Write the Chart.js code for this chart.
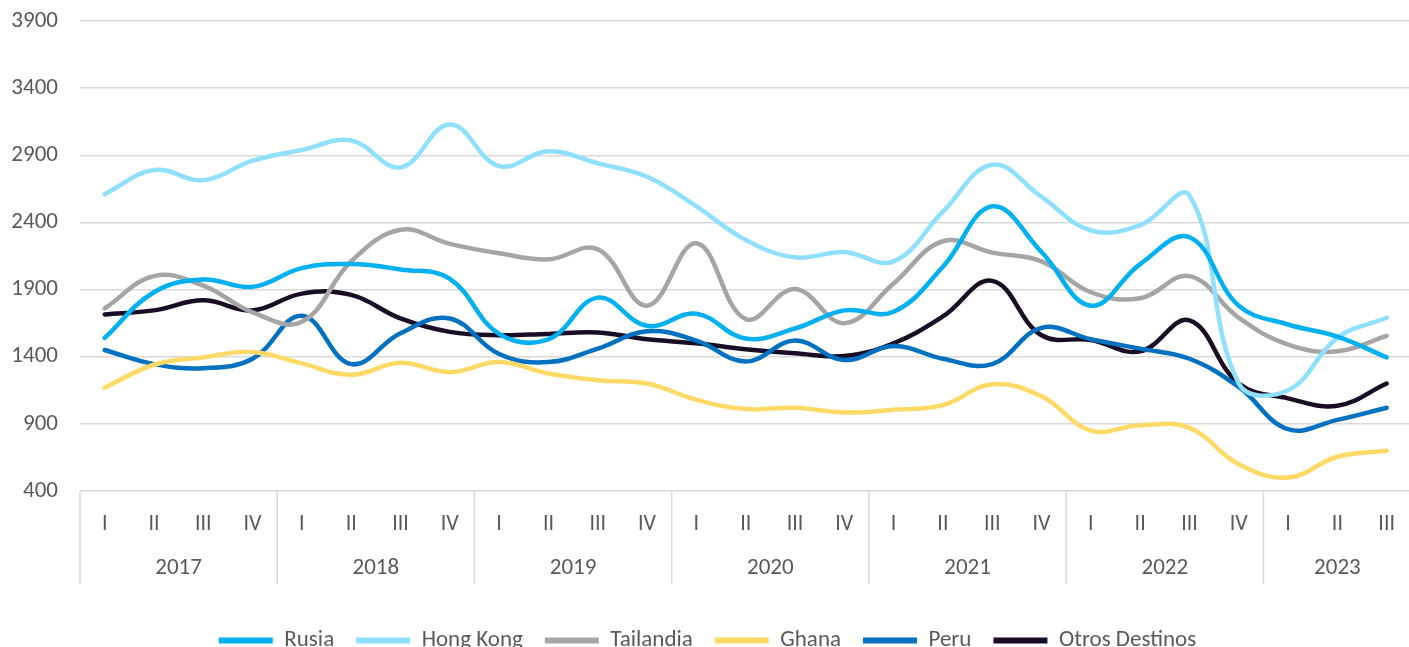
<!DOCTYPE html>
<html>
<head>
<meta charset="utf-8">
<script src="https://cdn.jsdelivr.net/npm/chart.js@4.4.0/dist/chart.umd.min.js"></script>
<style>
  html, body { margin: 0; padding: 0; background: #fff; overflow: hidden; }
  #wrap { width: 1415px; height: 662px; }
</style>
</head>
<body>
<div id="wrap"><canvas id="myChart" width="1415" height="662"></canvas></div>
<script>
"use strict"
// quarter label + year for each point
let quarters = ['I', 'II', 'III', 'IV', 'I', 'II', 'III', 'IV', 'I', 'II', 'III', 'IV', 'I', 'II', 'III', 'IV',
    'I', 'II', 'III', 'IV', 'I', 'II', 'III', 'IV', 'I', 'II', 'III'];
let years = ['2017', '2017', '2017', '2017', '2018', '2018', '2018', '2018', '2019', '2019', '2019', '2019',
    '2020', '2020', '2020', '2020', '2021', '2021', '2021', '2021', '2022', '2022', '2022', '2022',
    '2023', '2023', '2023'];
let yTicks = [400, 900, 1400, 1900, 2400, 2900, 3400, 3900];

let rusia = [1540, 1880, 1975, 1920, 2060, 2090, 2050, 1980, 1570, 1530, 1840, 1630, 1720, 1535, 1610, 1745,
    1735, 2070, 2520, 2180, 1780, 2090, 2290, 1780, 1640, 1550, 1395];
let hongKong = [2610, 2790, 2715, 2860, 2940, 3010, 2810, 3130, 2820, 2930, 2840, 2740, 2520, 2270, 2140, 2180,
    2110, 2480, 2830, 2590, 2340, 2380, 2600, 1200, 1150, 1540, 1690];
let tailandia = [1760, 2000, 1930, 1730, 1660, 2110, 2345, 2240, 2170, 2125, 2200, 1780, 2245, 1680, 1905, 1650,
    1945, 2260, 2175, 2110, 1880, 1835, 2000, 1690, 1490, 1440, 1555];
let ghana = [1170, 1340, 1395, 1435, 1350, 1265, 1355, 1285, 1360, 1275, 1225, 1200, 1080, 1010, 1020, 985,
    1005, 1040, 1195, 1105, 850, 890, 870, 600, 500, 655, 700];
let peru = [1450, 1345, 1315, 1385, 1705, 1345, 1575, 1685, 1420, 1360, 1460, 1590, 1520, 1365, 1520, 1375,
    1480, 1385, 1345, 1615, 1530, 1460, 1385, 1175, 860, 930, 1020];
let otros = [1715, 1745, 1820, 1745, 1870, 1860, 1685, 1585, 1560, 1570, 1580, 1530, 1500, 1455, 1425, 1405,
    1500, 1700, 1965, 1560, 1525, 1440, 1670, 1200, 1090, 1035, 1200];

let seriesNames = ['Rusia', 'Hong Kong', 'Tailandia', 'Ghana', 'Peru', 'Otros Destinos'];
let seriesData = [rusia, hongKong, tailandia, ghana, peru, otros];
let seriesColors = ['#00b0f0', '#8fdfff', '#a5a5a5', '#ffd966', '#0070c0', '#1b0c25'];

const fontFam = "Carlito, Calibri, 'Liberation Sans', sans-serif";
const txtColor = '#595959';
const lineGray = '#d9d9d9';

let datasets = [];
for (let i = 0; i < seriesNames.length; i++) {
    datasets.push({
        label: seriesNames[i],
        data: seriesData[i],
        borderColor: seriesColors[i],
        backgroundColor: seriesColors[i],
        borderWidth: 4.5,
        borderCapStyle: 'round',
        pointRadius: 0,
        tension: 0.4,
        fill: false
    });
}

// year labels + separators under the quarter ticks
const yearAxis = {
    id: 'yearAxis',
    afterDraw(chart) {
        let ctx = chart.ctx;
        let xs = chart.scales.x;
        let bottom = chart.chartArea.bottom;
        let half = (xs.getPixelForValue(1) - xs.getPixelForValue(0)) / 2;
        ctx.save();
        ctx.strokeStyle = lineGray;
        ctx.lineWidth = 1.5;
        ctx.fillStyle = txtColor;
        ctx.font = '23px ' + fontFam;
        ctx.textAlign = 'center';
        ctx.textBaseline = 'middle';
        let start = 0;
        for (let i = 1; i <= years.length; i++) {
            if (i == years.length || years[i] != years[start]) {
                let left = xs.getPixelForValue(start) - half;
                ctx.beginPath();
                ctx.moveTo(left, bottom);
                ctx.lineTo(left, bottom + 93);
                ctx.stroke();
                let cx = (xs.getPixelForValue(start) + xs.getPixelForValue(i - 1)) / 2;
                ctx.fillText(years[start], cx, bottom + 77);
                start = i;
            }
        }
        ctx.restore();
    }
};

let ctx = document.getElementById('myChart').getContext('2d');
let myChart = new Chart(ctx, {
    type: 'line',
    data: {
        labels: quarters,
        datasets: datasets
    },
    plugins: [yearAxis],
    options: {
        responsive: false,
        animation: false,
        layout: { padding: { top: 21, right: 0, bottom: 0, left: 0 } },
        plugins: {
            legend: {
                position: 'bottom',
                labels: {
                    usePointStyle: true,
                    pointStyle: 'line',
                    pointStyleWidth: 54,
                    boxHeight: 20,
                    padding: 22,
                    color: txtColor,
                    font: { family: fontFam, size: 23 },
                    generateLabels(chart) {
                        let items = Chart.defaults.plugins.legend.labels.generateLabels(chart);
                        items.forEach(it => { it.lineWidth = 6; it.pointStyle = 'line'; });
                        return items;
                    }
                }
            },
            tooltip: { enabled: false }
        },
        scales: {
            x: {
                offset: true,
                grid: { display: false, drawTicks: false },
                border: { display: false },
                ticks: {
                    color: txtColor,
                    padding: 20,
                    maxRotation: 0,
                    autoSkip: false,
                    font: { family: fontFam, size: 22 }
                },
                afterFit(scale) { scale.height = 116; }
            },
            y: {
                min: 400,
                max: 3900,
                afterBuildTicks(scale) { scale.ticks = yTicks.map(v => ({ value: v })); },
                grid: { color: lineGray, lineWidth: 1.5, drawTicks: false },
                border: { display: false },
                ticks: {
                    color: txtColor,
                    padding: 22,
                    font: { family: fontFam, size: 23 },
                    callback: v => String(v)
                },
                afterFit(scale) {
                    scale.width = 80;
                    scale.paddingTop = 0;
                    scale.paddingBottom = 0;
                }
            }
        }
    }
});
</script>
</body>
</html>
